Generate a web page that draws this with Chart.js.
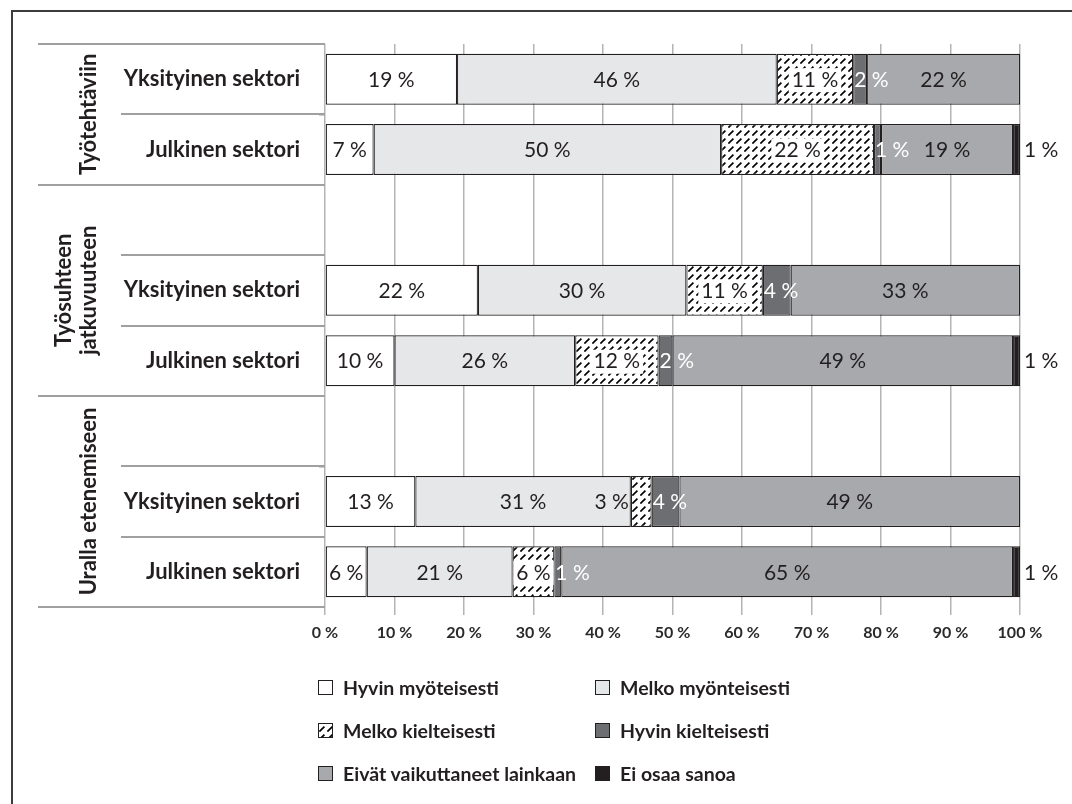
<!DOCTYPE html>
<html lang="fi">
<head>
<meta charset="utf-8">
<title>Vaikutukset sektoreittain</title>
<script src="https://cdn.jsdelivr.net/npm/chart.js@4.4.1/dist/chart.umd.min.js"></script>
<style>
  html, body { margin: 0; padding: 0; background: #fff; width: 1072px; height: 804px; overflow: hidden; }
  #frame { position: absolute; left: 11px; top: 10px; width: 1100px; height: 850px; border: 2px solid #3c3c3c; box-sizing: border-box; }
  #wrap { position: absolute; left: 0; top: 0; width: 1072px; height: 660px; }
  #legend { position: absolute; left: 0; top: 0; width: 1072px; height: 804px; pointer-events: none; }
  .item { position: absolute; display: flex; align-items: center; height: 26px; font: bold 19.5px Lato, sans-serif; color: #231f20; white-space: nowrap; }
  .box { width: 13px; height: 13px; border: 1px solid #231f20; margin-right: 10px; flex: none; }
</style>
</head>
<body>
<div id="frame"></div>
<div id="wrap"><canvas id="chart" width="1072" height="660"></canvas></div>
<div id="legend"></div>
<script>
// Rows, top to bottom; empty labels leave a spacer row between the groups.
const categories = ['Yksityinen sektori', 'Julkinen sektori', '', 'Yksityinen sektori', 'Julkinen sektori', '', 'Yksityinen sektori', 'Julkinen sektori'];
const groupNames = [['Työtehtäviin'], ['Työsuhteen', 'jatkuvuuteen'], ['Uralla etenemiseen']];
const groupRows = [[0, 1], [2, 4], [5, 7]];

const seriesNames = ['Hyvin myöteisesti', 'Melko myönteisesti', 'Melko kielteisesti', 'Hyvin kielteisesti', 'Eivät vaikuttaneet lainkaan', 'Ei osaa sanoa'];
const hyvinMyonteisesti = [19, 7, null, 22, 10, null, 13, 6];
const melkoMyonteisesti = [46, 50, null, 30, 26, null, 31, 21];
const melkoKielteisesti = [11, 22, null, 11, 12, null, 3, 6];
const hyvinKielteisesti = [2, 1, null, 4, 2, null, 4, 1];
const eivatVaikuttaneet = [22, 19, null, 33, 49, null, 49, 65];
const eiOsaaSanoa = [0, 1, null, 0, 1, null, 0, 1];

const xTickValues = [0, 10, 20, 30, 40, 50, 60, 70, 80, 90, 100];

const INK = '#231f20';
const FONT = 'Lato, sans-serif';

// Dashed upward diagonal hatch on white.
function makeHatch() {
  const s = 8;
  const c = document.createElement('canvas');
  c.width = s; c.height = s;
  const g = c.getContext('2d');
  g.fillStyle = '#fff';
  g.fillRect(0, 0, s, s);
  g.strokeStyle = '#000';
  g.lineWidth = 1.7;
  g.lineCap = 'butt';
  g.beginPath();
  g.moveTo(0.4, s - 0.4);
  g.lineTo(5.4, 2.6);
  g.stroke();
  return c;
}
const hatchTile = makeHatch();
const hatch = document.getElementById('chart').getContext('2d').createPattern(hatchTile, 'repeat');

const seriesValues = [hyvinMyonteisesti, melkoMyonteisesti, melkoKielteisesti, hyvinKielteisesti, eivatVaikuttaneet, eiOsaaSanoa];
const seriesFills = ['#ffffff', '#e6e7e8', hatch, '#6d6e71', '#a7a9ac', INK];
const labelModes = ['center', 'center', 'boxed', 'start', 'center', 'outside'];
const labelColors = [INK, INK, INK, '#ffffff', INK, INK];

// Percentage labels drawn on (or next to) each bar segment.
const valueLabels = {
  id: 'valueLabels',
  afterDatasetsDraw(chart) {
    const ctx = chart.ctx;
    ctx.save();
    ctx.font = '21px ' + FONT;
    ctx.textBaseline = 'middle';
    chart.data.datasets.forEach((ds, di) => {
      const meta = chart.getDatasetMeta(di);
      meta.data.forEach((bar, i) => {
        const v = ds.data[i];
        if (!v) return;
        const txt = v + ' %';
        const w = ctx.measureText(txt).width;
        const left = Math.min(bar.x, bar.base);
        const right = Math.max(bar.x, bar.base);
        const cy = bar.y + 1;
        let x = (left + right) / 2;
        let align = 'center';
        const mode = labelModes[di];
        if (mode === 'boxed') {
          if (right - left >= w + 4) {
            ctx.fillStyle = '#fff';
            ctx.fillRect(x - w / 2 - 3, cy - 12, w + 6, 24);
          } else {
            x = left - 2;
            align = 'right';
          }
        } else if (mode === 'start') {
          x = left + 1;
          align = 'left';
        } else if (mode === 'outside') {
          x = right + 4;
          align = 'left';
        }
        ctx.textAlign = align;
        ctx.fillStyle = labelColors[di];
        ctx.fillText(txt, x, cy);
      });
    });
    ctx.restore();
  }
};

// Multi-level category axis: separator rules and rotated group titles.
const groupAxis = {
  id: 'groupAxis',
  afterDraw(chart) {
    const ctx = chart.ctx;
    const y = chart.scales.y;
    const edge = k => y.getPixelForValue(k - 0.5);
    const axisX = chart.chartArea.left;
    ctx.save();
    ctx.strokeStyle = '#a0a0a0';
    ctx.lineWidth = 2;
    const starts = new Set();
    groupRows.forEach(([a, b]) => { starts.add(a); starts.add(b + 1); });
    for (let k = 0; k <= categories.length; k++) {
      const py = Math.round(edge(k));
      const x0 = starts.has(k) ? 38 : 121;
      ctx.beginPath();
      ctx.moveTo(x0, py);
      ctx.lineTo(axisX, py);
      ctx.stroke();
    }
    ctx.fillStyle = INK;
    ctx.font = 'bold 22px ' + FONT;
    ctx.textAlign = 'center';
    ctx.textBaseline = 'middle';
    groupRows.forEach(([a, b], gi) => {
      const cy = (edge(a) + edge(b + 1)) / 2;
      const lines = groupNames[gi];
      lines.forEach((line, li) => {
        const cx = 89 - (lines.length - 1 - li) * 25;
        ctx.save();
        ctx.translate(cx, cy);
        ctx.rotate(-Math.PI / 2);
        ctx.fillText(line, 0, 0);
        ctx.restore();
      });
    });
    ctx.restore();
  }
};

const chart = new Chart(document.getElementById('chart'), {
  type: 'bar',
  data: {
    labels: categories,
    datasets: seriesNames.map((name, i) => ({
      label: name,
      data: seriesValues[i],
      backgroundColor: seriesFills[i],
      borderColor: INK,
      borderWidth: 1.2,
      borderSkipped: false,
      categoryPercentage: 1,
      barPercentage: 0.725
    }))
  },
  options: {
    indexAxis: 'y',
    responsive: false,
    animation: false,
    devicePixelRatio: 1,
    layout: { padding: { top: 44, right: 52, left: 0, bottom: 0 } },
    plugins: { legend: { display: false }, tooltip: { enabled: false } },
    scales: {
      x: {
        stacked: true,
        min: 0,
        max: 100,
        afterBuildTicks: s => { s.ticks = xTickValues.map(v => ({ value: v })); },
        ticks: {
          callback: v => v + ' %',
          font: { family: FONT, weight: 'bold', size: 16 },
          color: '#2a2a2a',
          padding: 8,
          maxRotation: 0,
          autoSkip: false
        },
        grid: { color: '#b4b4b4', lineWidth: 1.5, tickLength: 8 },
        border: { display: false },
        afterFit: s => { s.height = 53; }
      },
      y: {
        stacked: true,
        ticks: {
          font: { family: FONT, weight: 'bold', size: 22 },
          color: INK,
          padding: 19,
          autoSkip: false
        },
        grid: { drawOnChartArea: false, tickLength: 6, color: '#9a9a9a', lineWidth: 1.5 },
        border: { display: false },
        afterFit: s => { s.width = 325; }
      }
    }
  },
  plugins: [valueLabels, groupAxis]
});

// Two-column legend built from the chart's datasets.
const legendCols = [318, 595];
const legendRows = [674, 717, 760];
const legendEl = document.getElementById('legend');
const hatchUrl = hatchTile.toDataURL();
chart.data.datasets.forEach((ds, i) => {
  const item = document.createElement('div');
  item.className = 'item';
  item.style.left = legendCols[i % 2] + 'px';
  item.style.top = legendRows[Math.floor(i / 2)] + 'px';
  const box = document.createElement('span');
  box.className = 'box';
  if (typeof ds.backgroundColor === 'string') {
    box.style.background = ds.backgroundColor;
  } else {
    box.style.background = 'url(' + hatchUrl + ')';
  }
  const text = document.createElement('span');
  text.textContent = ds.label;
  item.appendChild(box);
  item.appendChild(text);
  legendEl.appendChild(item);
});
</script>
</body>
</html>
